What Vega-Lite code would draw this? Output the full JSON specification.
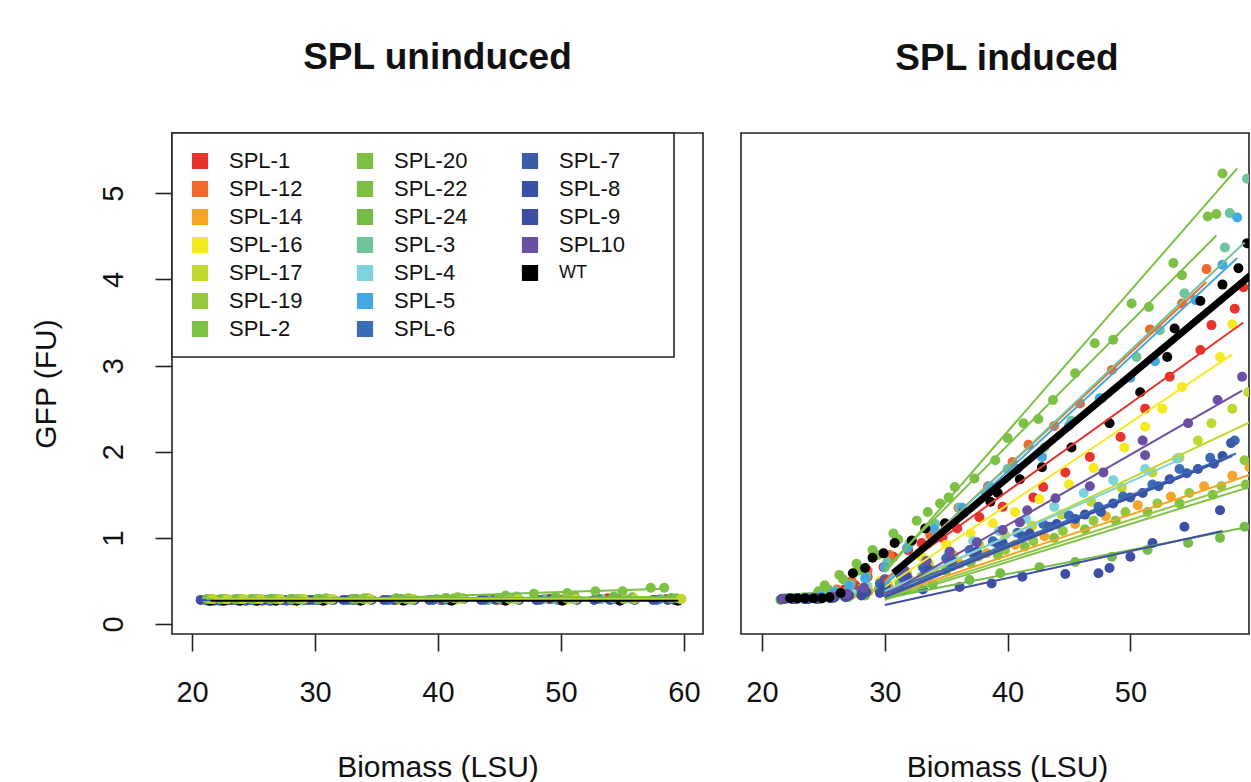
{
"$schema": "https://vega.github.io/schema/vega-lite/v6.json",
"padding": {"left": 30, "top": 38, "right": 0, "bottom": 0},
"background": "white",
"config": {
  "font": "Liberation Sans",
  "view": {"stroke": "#222222", "strokeWidth": 1.6},
  "axis": {"domain": false, "grid": false, "tickSize": 17, "tickWidth": 1.6, "tickColor": "#222222", "labelFontSize": 29, "labelColor": "#111111", "titleFontSize": 30, "titleFontWeight": "normal", "titleColor": "#111111", "labelFont": "Liberation Sans", "titleFont": "Liberation Sans"},
  "title": {"fontSize": 37, "fontWeight": "bold", "font": "Liberation Sans", "color": "#111111"},
  "concat": {"spacing": 36}
},
"datasets": {
"u": [
{"s":"SPL-1","x":21.3,"y":0.28},{"s":"SPL-1","x":22.4,"y":0.27},{"s":"SPL-1","x":23.6,"y":0.28},{"s":"SPL-1","x":24.9,"y":0.28},{"s":"SPL-1","x":26.3,"y":0.27},{"s":"SPL-1","x":28.0,"y":0.28},{"s":"SPL-1","x":30.1,"y":0.28},{"s":"SPL-1","x":33.0,"y":0.29},{"s":"SPL-1","x":36.4,"y":0.28},{"s":"SPL-1","x":40.2,"y":0.28},{"s":"SPL-1","x":44.5,"y":0.29},{"s":"SPL-1","x":49.0,"y":0.29},{"s":"SPL-1","x":53.8,"y":0.3},{"s":"SPL-1","x":58.6,"y":0.29},
{"s":"SPL-12","x":21.5,"y":0.27},{"s":"SPL-12","x":22.7,"y":0.28},{"s":"SPL-12","x":23.9,"y":0.27},{"s":"SPL-12","x":25.2,"y":0.28},{"s":"SPL-12","x":26.7,"y":0.28},{"s":"SPL-12","x":28.4,"y":0.28},{"s":"SPL-12","x":30.6,"y":0.27},{"s":"SPL-12","x":33.6,"y":0.28},{"s":"SPL-12","x":37.0,"y":0.29},{"s":"SPL-12","x":40.9,"y":0.28},{"s":"SPL-12","x":45.2,"y":0.28},{"s":"SPL-12","x":49.8,"y":0.29},{"s":"SPL-12","x":54.5,"y":0.29},{"s":"SPL-12","x":59.0,"y":0.29},
{"s":"SPL-14","x":21.4,"y":0.28},{"s":"SPL-14","x":22.5,"y":0.28},{"s":"SPL-14","x":23.7,"y":0.27},{"s":"SPL-14","x":25.0,"y":0.28},{"s":"SPL-14","x":26.5,"y":0.28},{"s":"SPL-14","x":28.2,"y":0.27},{"s":"SPL-14","x":30.4,"y":0.28},{"s":"SPL-14","x":33.3,"y":0.28},{"s":"SPL-14","x":36.7,"y":0.28},{"s":"SPL-14","x":40.5,"y":0.29},{"s":"SPL-14","x":44.9,"y":0.28},{"s":"SPL-14","x":49.4,"y":0.3},{"s":"SPL-14","x":54.1,"y":0.29},{"s":"SPL-14","x":58.8,"y":0.29},
{"s":"SPL-16","x":21.6,"y":0.28},{"s":"SPL-16","x":22.8,"y":0.27},{"s":"SPL-16","x":24.1,"y":0.28},{"s":"SPL-16","x":25.5,"y":0.28},{"s":"SPL-16","x":27.0,"y":0.28},{"s":"SPL-16","x":28.8,"y":0.28},{"s":"SPL-16","x":31.0,"y":0.28},{"s":"SPL-16","x":34.0,"y":0.28},{"s":"SPL-16","x":37.5,"y":0.28},{"s":"SPL-16","x":41.5,"y":0.28},{"s":"SPL-16","x":45.9,"y":0.29},{"s":"SPL-16","x":50.5,"y":0.28},{"s":"SPL-16","x":55.2,"y":0.29},{"s":"SPL-16","x":59.3,"y":0.28},
{"s":"SPL-3","x":21.2,"y":0.28},{"s":"SPL-3","x":22.3,"y":0.28},{"s":"SPL-3","x":23.5,"y":0.28},{"s":"SPL-3","x":24.8,"y":0.28},{"s":"SPL-3","x":26.2,"y":0.28},{"s":"SPL-3","x":27.9,"y":0.28},{"s":"SPL-3","x":30.0,"y":0.28},{"s":"SPL-3","x":32.8,"y":0.28},{"s":"SPL-3","x":36.1,"y":0.28},{"s":"SPL-3","x":39.9,"y":0.29},{"s":"SPL-3","x":44.1,"y":0.28},{"s":"SPL-3","x":48.6,"y":0.29},{"s":"SPL-3","x":53.3,"y":0.29},{"s":"SPL-3","x":58.1,"y":0.29},
{"s":"SPL-4","x":21.7,"y":0.28},{"s":"SPL-4","x":22.9,"y":0.28},{"s":"SPL-4","x":24.2,"y":0.27},{"s":"SPL-4","x":25.6,"y":0.28},{"s":"SPL-4","x":27.2,"y":0.28},{"s":"SPL-4","x":29.0,"y":0.27},{"s":"SPL-4","x":31.3,"y":0.28},{"s":"SPL-4","x":34.3,"y":0.29},{"s":"SPL-4","x":37.8,"y":0.28},{"s":"SPL-4","x":41.8,"y":0.29},{"s":"SPL-4","x":46.2,"y":0.29},{"s":"SPL-4","x":50.9,"y":0.29},{"s":"SPL-4","x":55.6,"y":0.29},{"s":"SPL-4","x":59.5,"y":0.29},
{"s":"SPL-5","x":21.4,"y":0.27},{"s":"SPL-5","x":22.6,"y":0.28},{"s":"SPL-5","x":23.8,"y":0.28},{"s":"SPL-5","x":25.1,"y":0.27},{"s":"SPL-5","x":26.6,"y":0.28},{"s":"SPL-5","x":28.3,"y":0.28},{"s":"SPL-5","x":30.5,"y":0.28},{"s":"SPL-5","x":33.5,"y":0.28},{"s":"SPL-5","x":36.9,"y":0.29},{"s":"SPL-5","x":40.8,"y":0.28},{"s":"SPL-5","x":45.1,"y":0.29},{"s":"SPL-5","x":49.7,"y":0.28},{"s":"SPL-5","x":54.4,"y":0.29},{"s":"SPL-5","x":58.9,"y":0.29},
{"s":"SPL-6","x":21.1,"y":0.28},{"s":"SPL-6","x":22.2,"y":0.27},{"s":"SPL-6","x":23.4,"y":0.28},{"s":"SPL-6","x":24.7,"y":0.28},{"s":"SPL-6","x":26.1,"y":0.28},{"s":"SPL-6","x":27.7,"y":0.27},{"s":"SPL-6","x":29.8,"y":0.28},{"s":"SPL-6","x":32.6,"y":0.28},{"s":"SPL-6","x":35.9,"y":0.28},{"s":"SPL-6","x":39.6,"y":0.28},{"s":"SPL-6","x":43.8,"y":0.28},{"s":"SPL-6","x":48.3,"y":0.28},{"s":"SPL-6","x":53.0,"y":0.29},{"s":"SPL-6","x":57.8,"y":0.28},
{"s":"SPL-7","x":21.8,"y":0.27},{"s":"SPL-7","x":23.0,"y":0.28},{"s":"SPL-7","x":24.3,"y":0.28},{"s":"SPL-7","x":25.7,"y":0.27},{"s":"SPL-7","x":27.3,"y":0.28},{"s":"SPL-7","x":29.2,"y":0.28},{"s":"SPL-7","x":31.5,"y":0.28},{"s":"SPL-7","x":34.6,"y":0.28},{"s":"SPL-7","x":38.1,"y":0.28},{"s":"SPL-7","x":42.1,"y":0.29},{"s":"SPL-7","x":46.6,"y":0.28},{"s":"SPL-7","x":51.3,"y":0.28},{"s":"SPL-7","x":56.0,"y":0.28},{"s":"SPL-7","x":59.6,"y":0.28},
{"s":"SPL-8","x":21.3,"y":0.27},{"s":"SPL-8","x":22.4,"y":0.28},{"s":"SPL-8","x":23.7,"y":0.28},{"s":"SPL-8","x":25.0,"y":0.28},{"s":"SPL-8","x":26.4,"y":0.27},{"s":"SPL-8","x":28.1,"y":0.28},{"s":"SPL-8","x":30.3,"y":0.28},{"s":"SPL-8","x":33.1,"y":0.28},{"s":"SPL-8","x":36.5,"y":0.28},{"s":"SPL-8","x":40.4,"y":0.28},{"s":"SPL-8","x":44.7,"y":0.28},{"s":"SPL-8","x":49.2,"y":0.29},{"s":"SPL-8","x":54.0,"y":0.28},{"s":"SPL-8","x":58.7,"y":0.28},
{"s":"SPL-9","x":20.7,"y":0.28},{"s":"SPL-9","x":21.9,"y":0.28},{"s":"SPL-9","x":23.1,"y":0.28},{"s":"SPL-9","x":24.4,"y":0.27},{"s":"SPL-9","x":25.8,"y":0.28},{"s":"SPL-9","x":27.5,"y":0.28},{"s":"SPL-9","x":29.5,"y":0.28},{"s":"SPL-9","x":32.3,"y":0.28},{"s":"SPL-9","x":35.6,"y":0.28},{"s":"SPL-9","x":39.3,"y":0.28},{"s":"SPL-9","x":43.5,"y":0.28},{"s":"SPL-9","x":48.0,"y":0.28},{"s":"SPL-9","x":52.7,"y":0.28},{"s":"SPL-9","x":57.5,"y":0.28},
{"s":"SPL10","x":21.6,"y":0.28},{"s":"SPL10","x":22.8,"y":0.28},{"s":"SPL10","x":24.0,"y":0.28},{"s":"SPL10","x":25.4,"y":0.28},{"s":"SPL10","x":26.9,"y":0.28},{"s":"SPL10","x":28.6,"y":0.28},{"s":"SPL10","x":30.8,"y":0.28},{"s":"SPL10","x":33.8,"y":0.28},{"s":"SPL10","x":37.3,"y":0.28},{"s":"SPL10","x":41.2,"y":0.28},{"s":"SPL10","x":45.6,"y":0.29},{"s":"SPL10","x":50.2,"y":0.28},{"s":"SPL10","x":54.9,"y":0.28},{"s":"SPL10","x":59.2,"y":0.28},
{"s":"WT","x":21.5,"y":0.27},{"s":"WT","x":22.6,"y":0.27},{"s":"WT","x":23.9,"y":0.27},{"s":"WT","x":25.3,"y":0.27},{"s":"WT","x":26.8,"y":0.27},{"s":"WT","x":28.5,"y":0.27},{"s":"WT","x":30.7,"y":0.27},{"s":"WT","x":33.7,"y":0.27},{"s":"WT","x":37.2,"y":0.27},{"s":"WT","x":41.1,"y":0.27},{"s":"WT","x":45.5,"y":0.27},{"s":"WT","x":50.1,"y":0.27},{"s":"WT","x":54.8,"y":0.27},{"s":"WT","x":59.5,"y":0.27},
{"s":"SPL-2","x":21.2,"y":0.29},{"s":"SPL-2","x":22.3,"y":0.29},{"s":"SPL-2","x":23.5,"y":0.29},{"s":"SPL-2","x":24.8,"y":0.29},{"s":"SPL-2","x":26.3,"y":0.29},{"s":"SPL-2","x":28.0,"y":0.29},{"s":"SPL-2","x":30.2,"y":0.29},{"s":"SPL-2","x":33.1,"y":0.29},{"s":"SPL-2","x":36.6,"y":0.3},{"s":"SPL-2","x":40.6,"y":0.3},{"s":"SPL-2","x":44.9,"y":0.3},{"s":"SPL-2","x":49.5,"y":0.3},{"s":"SPL-2","x":54.2,"y":0.3},{"s":"SPL-2","x":58.9,"y":0.3},
{"s":"SPL-20","x":21.4,"y":0.29},{"s":"SPL-20","x":22.6,"y":0.29},{"s":"SPL-20","x":23.8,"y":0.29},{"s":"SPL-20","x":25.2,"y":0.29},{"s":"SPL-20","x":26.8,"y":0.29},{"s":"SPL-20","x":28.6,"y":0.29},{"s":"SPL-20","x":30.9,"y":0.3},{"s":"SPL-20","x":34.0,"y":0.3},{"s":"SPL-20","x":37.6,"y":0.3},{"s":"SPL-20","x":41.6,"y":0.31},{"s":"SPL-20","x":45.5,"y":0.33},{"s":"SPL-20","x":47.8,"y":0.35},{"s":"SPL-20","x":50.5,"y":0.36},{"s":"SPL-20","x":52.8,"y":0.38},{"s":"SPL-20","x":55.0,"y":0.38},{"s":"SPL-20","x":57.3,"y":0.42},{"s":"SPL-20","x":58.4,"y":0.42},
{"s":"SPL-22","x":21.6,"y":0.29},{"s":"SPL-22","x":22.8,"y":0.29},{"s":"SPL-22","x":24.1,"y":0.29},{"s":"SPL-22","x":25.5,"y":0.29},{"s":"SPL-22","x":27.1,"y":0.29},{"s":"SPL-22","x":28.9,"y":0.29},{"s":"SPL-22","x":31.2,"y":0.29},{"s":"SPL-22","x":34.3,"y":0.3},{"s":"SPL-22","x":37.9,"y":0.29},{"s":"SPL-22","x":42.0,"y":0.3},{"s":"SPL-22","x":46.4,"y":0.32},{"s":"SPL-22","x":51.1,"y":0.33},{"s":"SPL-22","x":55.8,"y":0.31},{"s":"SPL-22","x":59.4,"y":0.3},
{"s":"SPL-24","x":21.3,"y":0.29},{"s":"SPL-24","x":22.5,"y":0.29},{"s":"SPL-24","x":23.7,"y":0.29},{"s":"SPL-24","x":25.0,"y":0.29},{"s":"SPL-24","x":26.5,"y":0.29},{"s":"SPL-24","x":28.2,"y":0.29},{"s":"SPL-24","x":30.4,"y":0.29},{"s":"SPL-24","x":33.4,"y":0.29},{"s":"SPL-24","x":36.8,"y":0.29},{"s":"SPL-24","x":40.7,"y":0.3},{"s":"SPL-24","x":45.0,"y":0.3},{"s":"SPL-24","x":49.6,"y":0.31},{"s":"SPL-24","x":54.3,"y":0.32},{"s":"SPL-24","x":59.0,"y":0.3},
{"s":"SPL-19","x":21.5,"y":0.29},{"s":"SPL-19","x":22.7,"y":0.29},{"s":"SPL-19","x":24.0,"y":0.29},{"s":"SPL-19","x":25.3,"y":0.29},{"s":"SPL-19","x":26.9,"y":0.29},{"s":"SPL-19","x":28.7,"y":0.29},{"s":"SPL-19","x":31.0,"y":0.29},{"s":"SPL-19","x":33.9,"y":0.29},{"s":"SPL-19","x":37.4,"y":0.29},{"s":"SPL-19","x":41.3,"y":0.3},{"s":"SPL-19","x":45.8,"y":0.29},{"s":"SPL-19","x":50.4,"y":0.3},{"s":"SPL-19","x":55.1,"y":0.29},{"s":"SPL-19","x":59.7,"y":0.29},
{"s":"SPL-17","x":21.7,"y":0.29},{"s":"SPL-17","x":22.9,"y":0.29},{"s":"SPL-17","x":24.2,"y":0.29},{"s":"SPL-17","x":25.6,"y":0.29},{"s":"SPL-17","x":27.2,"y":0.29},{"s":"SPL-17","x":29.1,"y":0.29},{"s":"SPL-17","x":31.4,"y":0.29},{"s":"SPL-17","x":34.5,"y":0.29},{"s":"SPL-17","x":38.0,"y":0.29},{"s":"SPL-17","x":42.0,"y":0.29},{"s":"SPL-17","x":46.5,"y":0.29},{"s":"SPL-17","x":51.2,"y":0.29},{"s":"SPL-17","x":56.0,"y":0.29},{"s":"SPL-17","x":59.8,"y":0.29}
],
"ul": [
{"s":"SPL-1","x":21.3,"y":0.28},{"s":"SPL-1","x":58.6,"y":0.29},
{"s":"SPL-12","x":21.5,"y":0.28},{"s":"SPL-12","x":59.0,"y":0.29},
{"s":"SPL-14","x":21.4,"y":0.28},{"s":"SPL-14","x":58.8,"y":0.29},
{"s":"SPL-16","x":21.6,"y":0.28},{"s":"SPL-16","x":59.3,"y":0.28},
{"s":"SPL-3","x":21.2,"y":0.28},{"s":"SPL-3","x":58.1,"y":0.29},
{"s":"SPL-4","x":21.7,"y":0.28},{"s":"SPL-4","x":59.5,"y":0.29},
{"s":"SPL-5","x":21.4,"y":0.28},{"s":"SPL-5","x":58.9,"y":0.29},
{"s":"SPL-6","x":21.1,"y":0.28},{"s":"SPL-6","x":57.8,"y":0.28},
{"s":"SPL-7","x":21.8,"y":0.28},{"s":"SPL-7","x":59.6,"y":0.28},
{"s":"SPL-8","x":21.3,"y":0.28},{"s":"SPL-8","x":58.7,"y":0.28},
{"s":"SPL-9","x":20.7,"y":0.28},{"s":"SPL-9","x":57.5,"y":0.28},
{"s":"SPL10","x":21.6,"y":0.28},{"s":"SPL10","x":59.2,"y":0.28},
{"s":"SPL-2","x":21.2,"y":0.29},{"s":"SPL-2","x":58.9,"y":0.3},
{"s":"SPL-20","x":35.0,"y":0.3},{"s":"SPL-20","x":58.4,"y":0.41},
{"s":"SPL-22","x":21.6,"y":0.29},{"s":"SPL-22","x":59.4,"y":0.31},
{"s":"SPL-24","x":21.3,"y":0.29},{"s":"SPL-24","x":59.0,"y":0.31},
{"s":"SPL-19","x":21.5,"y":0.29},{"s":"SPL-19","x":59.7,"y":0.29},
{"s":"SPL-17","x":21.7,"y":0.29},{"s":"SPL-17","x":59.8,"y":0.29},
{"s":"WT","x":21.5,"y":0.27},{"s":"WT","x":59.5,"y":0.27}
],
"i": [
{"s":"SPL-1","x":21.9,"y":0.29},{"s":"SPL-1","x":22.8,"y":0.3},{"s":"SPL-1","x":23.8,"y":0.3},{"s":"SPL-1","x":24.8,"y":0.31},{"s":"SPL-1","x":25.8,"y":0.34},{"s":"SPL-1","x":26.7,"y":0.4},{"s":"SPL-1","x":27.6,"y":0.45},{"s":"SPL-1","x":28.6,"y":0.55},{"s":"SPL-1","x":29.9,"y":0.66},{"s":"SPL-1","x":30.7,"y":0.78},{"s":"SPL-1","x":31.9,"y":0.86},{"s":"SPL-1","x":33.0,"y":0.94},{"s":"SPL-1","x":34.7,"y":1.0},{"s":"SPL-1","x":35.9,"y":1.11},{"s":"SPL-1","x":37.7,"y":1.24},{"s":"SPL-1","x":39.6,"y":1.36},{"s":"SPL-1","x":42.1,"y":1.47},{"s":"SPL-1","x":42.9,"y":1.59},{"s":"SPL-1","x":44.7,"y":1.76},{"s":"SPL-1","x":46.7,"y":1.94},{"s":"SPL-1","x":49.2,"y":2.17},{"s":"SPL-1","x":51.2,"y":2.5},{"s":"SPL-1","x":53.2,"y":2.87},{"s":"SPL-1","x":55.7,"y":3.18},{"s":"SPL-1","x":56.6,"y":3.47},{"s":"SPL-1","x":58.5,"y":3.66},{"s":"SPL-1","x":59.2,"y":3.91},
{"s":"SPL-12","x":22.0,"y":0.3},{"s":"SPL-12","x":23.0,"y":0.3},{"s":"SPL-12","x":24.0,"y":0.31},{"s":"SPL-12","x":25.0,"y":0.34},{"s":"SPL-12","x":26.1,"y":0.4},{"s":"SPL-12","x":27.3,"y":0.5},{"s":"SPL-12","x":28.6,"y":0.62},{"s":"SPL-12","x":30.4,"y":0.8},{"s":"SPL-12","x":32.1,"y":0.95},{"s":"SPL-12","x":33.7,"y":1.03},{"s":"SPL-12","x":36.0,"y":1.35},{"s":"SPL-12","x":38.4,"y":1.6},{"s":"SPL-12","x":40.4,"y":1.88},{"s":"SPL-12","x":41.7,"y":2.08},{"s":"SPL-12","x":43.8,"y":2.3},{"s":"SPL-12","x":45.9,"y":2.56},{"s":"SPL-12","x":48.5,"y":2.95},{"s":"SPL-12","x":51.6,"y":3.42},{"s":"SPL-12","x":54.2,"y":3.72},{"s":"SPL-12","x":56.2,"y":4.12},
{"s":"SPL-14","x":21.9,"y":0.29},{"s":"SPL-14","x":22.9,"y":0.29},{"s":"SPL-14","x":23.9,"y":0.3},{"s":"SPL-14","x":24.9,"y":0.3},{"s":"SPL-14","x":26.0,"y":0.32},{"s":"SPL-14","x":27.3,"y":0.34},{"s":"SPL-14","x":28.7,"y":0.38},{"s":"SPL-14","x":30.3,"y":0.44},{"s":"SPL-14","x":32.0,"y":0.52},{"s":"SPL-14","x":34.0,"y":0.62},{"s":"SPL-14","x":36.1,"y":0.7},{"s":"SPL-14","x":38.3,"y":0.82},{"s":"SPL-14","x":40.6,"y":0.92},{"s":"SPL-14","x":43.0,"y":1.02},{"s":"SPL-14","x":45.5,"y":1.16},{"s":"SPL-14","x":48.0,"y":1.25},{"s":"SPL-14","x":50.6,"y":1.38},{"s":"SPL-14","x":53.3,"y":1.48},{"s":"SPL-14","x":56.0,"y":1.6},{"s":"SPL-14","x":58.3,"y":1.72},{"s":"SPL-14","x":59.7,"y":1.82},
{"s":"SPL-16","x":21.8,"y":0.29},{"s":"SPL-16","x":22.7,"y":0.29},{"s":"SPL-16","x":23.7,"y":0.3},{"s":"SPL-16","x":24.7,"y":0.31},{"s":"SPL-16","x":25.8,"y":0.33},{"s":"SPL-16","x":26.9,"y":0.36},{"s":"SPL-16","x":28.2,"y":0.42},{"s":"SPL-16","x":29.6,"y":0.5},{"s":"SPL-16","x":31.2,"y":0.62},{"s":"SPL-16","x":33.0,"y":0.78},{"s":"SPL-16","x":35.0,"y":0.92},{"s":"SPL-16","x":37.0,"y":1.05},{"s":"SPL-16","x":38.8,"y":1.17},{"s":"SPL-16","x":40.6,"y":1.3},{"s":"SPL-16","x":42.6,"y":1.45},{"s":"SPL-16","x":45.0,"y":1.62},{"s":"SPL-16","x":47.0,"y":1.81},{"s":"SPL-16","x":49.5,"y":2.05},{"s":"SPL-16","x":51.2,"y":2.29},{"s":"SPL-16","x":52.6,"y":2.5},{"s":"SPL-16","x":54.2,"y":2.75},{"s":"SPL-16","x":57.3,"y":3.1},{"s":"SPL-16","x":58.3,"y":3.48},
{"s":"SPL-17","x":21.9,"y":0.29},{"s":"SPL-17","x":22.9,"y":0.29},{"s":"SPL-17","x":23.9,"y":0.3},{"s":"SPL-17","x":24.9,"y":0.31},{"s":"SPL-17","x":26.0,"y":0.33},{"s":"SPL-17","x":27.2,"y":0.37},{"s":"SPL-17","x":28.6,"y":0.44},{"s":"SPL-17","x":30.1,"y":0.52},{"s":"SPL-17","x":31.8,"y":0.6},{"s":"SPL-17","x":33.6,"y":0.7},{"s":"SPL-17","x":35.6,"y":0.8},{"s":"SPL-17","x":37.7,"y":0.92},{"s":"SPL-17","x":39.8,"y":1.03},{"s":"SPL-17","x":42.0,"y":1.14},{"s":"SPL-17","x":44.4,"y":1.27},{"s":"SPL-17","x":46.8,"y":1.42},{"s":"SPL-17","x":49.3,"y":1.58},{"s":"SPL-17","x":51.8,"y":1.76},{"s":"SPL-17","x":54.0,"y":1.93},{"s":"SPL-17","x":55.5,"y":2.13},{"s":"SPL-17","x":56.6,"y":2.33},{"s":"SPL-17","x":58.3,"y":2.5},{"s":"SPL-17","x":59.6,"y":2.69},
{"s":"SPL-19","x":21.6,"y":0.29},{"s":"SPL-19","x":22.6,"y":0.29},{"s":"SPL-19","x":23.6,"y":0.29},{"s":"SPL-19","x":24.6,"y":0.3},{"s":"SPL-19","x":25.7,"y":0.31},{"s":"SPL-19","x":26.9,"y":0.33},{"s":"SPL-19","x":28.3,"y":0.37},{"s":"SPL-19","x":29.9,"y":0.43},{"s":"SPL-19","x":31.6,"y":0.5},{"s":"SPL-19","x":33.5,"y":0.58},{"s":"SPL-19","x":35.5,"y":0.67},{"s":"SPL-19","x":37.6,"y":0.78},{"s":"SPL-19","x":39.8,"y":0.86},{"s":"SPL-19","x":42.1,"y":0.96},{"s":"SPL-19","x":44.5,"y":1.08},{"s":"SPL-19","x":47.0,"y":1.2},{"s":"SPL-19","x":49.6,"y":1.3},{"s":"SPL-19","x":52.2,"y":1.4},{"s":"SPL-19","x":54.8,"y":1.52},{"s":"SPL-19","x":57.4,"y":1.6},{"s":"SPL-19","x":59.3,"y":1.9},
{"s":"SPL-2","x":21.5,"y":0.28},{"s":"SPL-2","x":22.4,"y":0.29},{"s":"SPL-2","x":23.4,"y":0.29},{"s":"SPL-2","x":24.4,"y":0.29},{"s":"SPL-2","x":25.5,"y":0.3},{"s":"SPL-2","x":26.7,"y":0.32},{"s":"SPL-2","x":28.0,"y":0.35},{"s":"SPL-2","x":29.5,"y":0.4},{"s":"SPL-2","x":31.2,"y":0.47},{"s":"SPL-2","x":33.0,"y":0.55},{"s":"SPL-2","x":35.0,"y":0.62},{"s":"SPL-2","x":37.0,"y":0.71},{"s":"SPL-2","x":39.2,"y":0.8},{"s":"SPL-2","x":41.4,"y":0.9},{"s":"SPL-2","x":43.8,"y":1.0},{"s":"SPL-2","x":46.3,"y":1.1},{"s":"SPL-2","x":48.8,"y":1.2},{"s":"SPL-2","x":51.4,"y":1.3},{"s":"SPL-2","x":54.0,"y":1.4},{"s":"SPL-2","x":56.7,"y":1.5},{"s":"SPL-2","x":59.4,"y":1.62},
{"s":"SPL-20","x":21.9,"y":0.29},{"s":"SPL-20","x":22.8,"y":0.3},{"s":"SPL-20","x":23.7,"y":0.31},{"s":"SPL-20","x":24.6,"y":0.38},{"s":"SPL-20","x":25.1,"y":0.45},{"s":"SPL-20","x":26.3,"y":0.57},{"s":"SPL-20","x":27.7,"y":0.7},{"s":"SPL-20","x":29.0,"y":0.86},{"s":"SPL-20","x":30.7,"y":1.05},{"s":"SPL-20","x":32.6,"y":1.2},{"s":"SPL-20","x":34.5,"y":1.4},{"s":"SPL-20","x":35.7,"y":1.59},{"s":"SPL-20","x":39.0,"y":1.9},{"s":"SPL-20","x":41.3,"y":2.33},{"s":"SPL-20","x":43.7,"y":2.6},{"s":"SPL-20","x":47.1,"y":3.26},{"s":"SPL-20","x":50.1,"y":3.72},{"s":"SPL-20","x":53.5,"y":4.19},{"s":"SPL-20","x":56.3,"y":4.73},{"s":"SPL-20","x":57.5,"y":5.23},
{"s":"SPL-22","x":21.7,"y":0.29},{"s":"SPL-22","x":22.6,"y":0.3},{"s":"SPL-22","x":23.4,"y":0.31},{"s":"SPL-22","x":24.4,"y":0.33},{"s":"SPL-22","x":25.4,"y":0.4},{"s":"SPL-22","x":26.6,"y":0.52},{"s":"SPL-22","x":27.9,"y":0.62},{"s":"SPL-22","x":29.4,"y":0.8},{"s":"SPL-22","x":31.1,"y":0.98},{"s":"SPL-22","x":33.5,"y":1.3},{"s":"SPL-22","x":35.2,"y":1.47},{"s":"SPL-22","x":37.3,"y":1.69},{"s":"SPL-22","x":40.0,"y":2.16},{"s":"SPL-22","x":42.5,"y":2.38},{"s":"SPL-22","x":45.5,"y":2.91},{"s":"SPL-22","x":48.6,"y":3.3},{"s":"SPL-22","x":51.5,"y":3.68},{"s":"SPL-22","x":54.2,"y":4.05},{"s":"SPL-22","x":57.0,"y":4.76},
{"s":"SPL-24","x":21.7,"y":0.29},{"s":"SPL-24","x":22.7,"y":0.29},{"s":"SPL-24","x":23.7,"y":0.29},{"s":"SPL-24","x":24.7,"y":0.29},{"s":"SPL-24","x":25.8,"y":0.3},{"s":"SPL-24","x":27.0,"y":0.31},{"s":"SPL-24","x":28.4,"y":0.33},{"s":"SPL-24","x":30.0,"y":0.37},{"s":"SPL-24","x":31.8,"y":0.41},{"s":"SPL-24","x":33.9,"y":0.46},{"s":"SPL-24","x":36.9,"y":0.51},{"s":"SPL-24","x":39.4,"y":0.59},{"s":"SPL-24","x":42.6,"y":0.66},{"s":"SPL-24","x":45.5,"y":0.72},{"s":"SPL-24","x":48.5,"y":0.78},{"s":"SPL-24","x":51.4,"y":0.86},{"s":"SPL-24","x":54.7,"y":0.94},{"s":"SPL-24","x":57.3,"y":1.0},{"s":"SPL-24","x":59.3,"y":1.13},
{"s":"SPL-3","x":21.9,"y":0.3},{"s":"SPL-3","x":22.9,"y":0.3},{"s":"SPL-3","x":23.9,"y":0.31},{"s":"SPL-3","x":24.9,"y":0.33},{"s":"SPL-3","x":26.0,"y":0.38},{"s":"SPL-3","x":27.2,"y":0.46},{"s":"SPL-3","x":28.5,"y":0.55},{"s":"SPL-3","x":30.2,"y":0.72},{"s":"SPL-3","x":32.0,"y":0.93},{"s":"SPL-3","x":34.1,"y":1.16},{"s":"SPL-3","x":36.1,"y":1.35},{"s":"SPL-3","x":38.2,"y":1.52},{"s":"SPL-3","x":40.0,"y":1.8},{"s":"SPL-3","x":43.0,"y":2.05},{"s":"SPL-3","x":45.2,"y":2.36},{"s":"SPL-3","x":47.7,"y":2.62},{"s":"SPL-3","x":50.5,"y":3.1},{"s":"SPL-3","x":52.4,"y":3.41},{"s":"SPL-3","x":54.4,"y":3.84},{"s":"SPL-3","x":57.7,"y":4.37},{"s":"SPL-3","x":58.1,"y":4.77},{"s":"SPL-3","x":59.5,"y":5.17},
{"s":"SPL-4","x":21.8,"y":0.3},{"s":"SPL-4","x":22.8,"y":0.3},{"s":"SPL-4","x":23.8,"y":0.3},{"s":"SPL-4","x":24.9,"y":0.31},{"s":"SPL-4","x":26.0,"y":0.33},{"s":"SPL-4","x":27.2,"y":0.37},{"s":"SPL-4","x":28.5,"y":0.44},{"s":"SPL-4","x":30.0,"y":0.52},{"s":"SPL-4","x":31.6,"y":0.62},{"s":"SPL-4","x":33.3,"y":0.72},{"s":"SPL-4","x":35.2,"y":0.83},{"s":"SPL-4","x":37.2,"y":0.96},{"s":"SPL-4","x":39.3,"y":1.08},{"s":"SPL-4","x":41.5,"y":1.22},{"s":"SPL-4","x":43.8,"y":1.36},{"s":"SPL-4","x":46.2,"y":1.52},{"s":"SPL-4","x":48.6,"y":1.67},{"s":"SPL-4","x":51.2,"y":1.8},{"s":"SPL-4","x":53.8,"y":1.92},
{"s":"SPL-5","x":21.8,"y":0.29},{"s":"SPL-5","x":22.8,"y":0.3},{"s":"SPL-5","x":23.8,"y":0.3},{"s":"SPL-5","x":24.8,"y":0.32},{"s":"SPL-5","x":25.9,"y":0.37},{"s":"SPL-5","x":27.1,"y":0.44},{"s":"SPL-5","x":28.4,"y":0.53},{"s":"SPL-5","x":30.0,"y":0.66},{"s":"SPL-5","x":31.8,"y":0.88},{"s":"SPL-5","x":34.0,"y":1.1},{"s":"SPL-5","x":36.3,"y":1.35},{"s":"SPL-5","x":38.5,"y":1.6},{"s":"SPL-5","x":40.8,"y":1.8},{"s":"SPL-5","x":42.8,"y":1.94},{"s":"SPL-5","x":45.0,"y":2.3},{"s":"SPL-5","x":47.5,"y":2.62},{"s":"SPL-5","x":50.0,"y":2.86},{"s":"SPL-5","x":52.0,"y":3.05},{"s":"SPL-5","x":55.3,"y":3.76},{"s":"SPL-5","x":57.5,"y":4.17},{"s":"SPL-5","x":58.7,"y":4.72},
{"s":"SPL-6","x":21.6,"y":0.29},{"s":"SPL-6","x":22.5,"y":0.29},{"s":"SPL-6","x":23.5,"y":0.29},{"s":"SPL-6","x":24.5,"y":0.3},{"s":"SPL-6","x":25.6,"y":0.31},{"s":"SPL-6","x":26.8,"y":0.34},{"s":"SPL-6","x":28.1,"y":0.4},{"s":"SPL-6","x":29.6,"y":0.47},{"s":"SPL-6","x":31.3,"y":0.56},{"s":"SPL-6","x":33.1,"y":0.66},{"s":"SPL-6","x":35.0,"y":0.76},{"s":"SPL-6","x":36.9,"y":0.86},{"s":"SPL-6","x":38.8,"y":0.96},{"s":"SPL-6","x":40.8,"y":1.06},{"s":"SPL-6","x":42.9,"y":1.16},{"s":"SPL-6","x":45.0,"y":1.26},{"s":"SPL-6","x":47.4,"y":1.36},{"s":"SPL-6","x":49.4,"y":1.48},{"s":"SPL-6","x":51.8,"y":1.62},{"s":"SPL-6","x":54.0,"y":1.8},{"s":"SPL-6","x":56.5,"y":1.93},{"s":"SPL-6","x":58.5,"y":2.13},
{"s":"SPL-7","x":21.7,"y":0.29},{"s":"SPL-7","x":22.6,"y":0.29},{"s":"SPL-7","x":23.6,"y":0.29},{"s":"SPL-7","x":24.6,"y":0.3},{"s":"SPL-7","x":25.7,"y":0.31},{"s":"SPL-7","x":26.9,"y":0.33},{"s":"SPL-7","x":28.2,"y":0.37},{"s":"SPL-7","x":29.8,"y":0.44},{"s":"SPL-7","x":31.5,"y":0.53},{"s":"SPL-7","x":33.3,"y":0.62},{"s":"SPL-7","x":35.2,"y":0.72},{"s":"SPL-7","x":37.2,"y":0.82},{"s":"SPL-7","x":39.2,"y":0.93},{"s":"SPL-7","x":41.2,"y":1.02},{"s":"SPL-7","x":43.4,"y":1.13},{"s":"SPL-7","x":45.5,"y":1.22},{"s":"SPL-7","x":47.6,"y":1.3},{"s":"SPL-7","x":50.0,"y":1.47},{"s":"SPL-7","x":52.3,"y":1.6},{"s":"SPL-7","x":54.6,"y":1.75},{"s":"SPL-7","x":56.8,"y":1.86},{"s":"SPL-7","x":58.2,"y":2.1},
{"s":"SPL-8","x":21.8,"y":0.29},{"s":"SPL-8","x":22.8,"y":0.29},{"s":"SPL-8","x":23.8,"y":0.29},{"s":"SPL-8","x":24.8,"y":0.3},{"s":"SPL-8","x":25.9,"y":0.31},{"s":"SPL-8","x":27.1,"y":0.33},{"s":"SPL-8","x":28.5,"y":0.37},{"s":"SPL-8","x":30.1,"y":0.45},{"s":"SPL-8","x":31.8,"y":0.55},{"s":"SPL-8","x":33.6,"y":0.63},{"s":"SPL-8","x":35.5,"y":0.73},{"s":"SPL-8","x":37.5,"y":0.84},{"s":"SPL-8","x":39.6,"y":0.94},{"s":"SPL-8","x":41.8,"y":1.05},{"s":"SPL-8","x":44.0,"y":1.16},{"s":"SPL-8","x":46.3,"y":1.27},{"s":"SPL-8","x":48.6,"y":1.4},{"s":"SPL-8","x":51.0,"y":1.52},{"s":"SPL-8","x":53.2,"y":1.68},{"s":"SPL-8","x":55.5,"y":1.8},{"s":"SPL-8","x":57.5,"y":1.95},
{"s":"SPL-9","x":21.6,"y":0.29},{"s":"SPL-9","x":22.5,"y":0.29},{"s":"SPL-9","x":23.5,"y":0.29},{"s":"SPL-9","x":24.5,"y":0.29},{"s":"SPL-9","x":25.6,"y":0.3},{"s":"SPL-9","x":26.8,"y":0.31},{"s":"SPL-9","x":28.1,"y":0.33},{"s":"SPL-9","x":29.6,"y":0.36},{"s":"SPL-9","x":31.3,"y":0.38},{"s":"SPL-9","x":33.1,"y":0.4},{"s":"SPL-9","x":36.1,"y":0.43},{"s":"SPL-9","x":38.7,"y":0.47},{"s":"SPL-9","x":41.2,"y":0.55},{"s":"SPL-9","x":44.7,"y":0.58},{"s":"SPL-9","x":47.4,"y":0.59},{"s":"SPL-9","x":48.3,"y":0.65},{"s":"SPL-9","x":50.0,"y":0.78},{"s":"SPL-9","x":51.8,"y":0.94},{"s":"SPL-9","x":54.4,"y":1.13},{"s":"SPL-9","x":57.3,"y":1.32},
{"s":"SPL10","x":21.7,"y":0.29},{"s":"SPL10","x":22.6,"y":0.29},{"s":"SPL10","x":23.6,"y":0.3},{"s":"SPL10","x":24.6,"y":0.3},{"s":"SPL10","x":25.7,"y":0.32},{"s":"SPL10","x":26.9,"y":0.35},{"s":"SPL10","x":28.3,"y":0.42},{"s":"SPL10","x":30.0,"y":0.52},{"s":"SPL10","x":31.6,"y":0.62},{"s":"SPL10","x":33.4,"y":0.73},{"s":"SPL10","x":35.3,"y":0.84},{"s":"SPL10","x":37.5,"y":0.95},{"s":"SPL10","x":39.6,"y":1.09},{"s":"SPL10","x":41.0,"y":1.18},{"s":"SPL10","x":41.6,"y":1.32},{"s":"SPL10","x":43.9,"y":1.46},{"s":"SPL10","x":46.7,"y":1.6},{"s":"SPL10","x":47.8,"y":1.76},{"s":"SPL10","x":51.2,"y":1.96},{"s":"SPL10","x":51.0,"y":2.13},{"s":"SPL10","x":54.7,"y":2.33},{"s":"SPL10","x":57.1,"y":2.6},{"s":"SPL10","x":59.1,"y":2.87},
{"s":"WT","x":22.3,"y":0.3},{"s":"WT","x":22.9,"y":0.3},{"s":"WT","x":23.5,"y":0.3},{"s":"WT","x":24.2,"y":0.3},{"s":"WT","x":24.9,"y":0.3},{"s":"WT","x":25.5,"y":0.31},{"s":"WT","x":26.4,"y":0.36},{"s":"WT","x":27.4,"y":0.59},{"s":"WT","x":28.4,"y":0.65},{"s":"WT","x":29.0,"y":0.77},{"s":"WT","x":29.9,"y":0.82},{"s":"WT","x":30.8,"y":0.94},{"s":"WT","x":32.2,"y":0.97},{"s":"WT","x":33.3,"y":1.11},{"s":"WT","x":34.9,"y":1.17},{"s":"WT","x":36.4,"y":1.29},{"s":"WT","x":38.6,"y":1.42},{"s":"WT","x":39.2,"y":1.52},{"s":"WT","x":41.0,"y":1.68},{"s":"WT","x":42.8,"y":1.82},{"s":"WT","x":45.2,"y":2.05},{"s":"WT","x":48.3,"y":2.33},{"s":"WT","x":50.8,"y":2.69},{"s":"WT","x":53.0,"y":3.1},{"s":"WT","x":53.6,"y":3.43},{"s":"WT","x":55.7,"y":3.75},{"s":"WT","x":57.5,"y":3.94},{"s":"WT","x":58.8,"y":4.13},{"s":"WT","x":59.5,"y":4.42}
],
"il": [
{"s":"SPL-1","x":30.0,"y":0.52},{"s":"SPL-1","x":59.2,"y":3.5},
{"s":"SPL-12","x":30.0,"y":0.5},{"s":"SPL-12","x":56.2,"y":3.97},
{"s":"SPL-14","x":30.0,"y":0.32},{"s":"SPL-14","x":59.7,"y":1.73},
{"s":"SPL-16","x":30.0,"y":0.43},{"s":"SPL-16","x":58.3,"y":3.13},
{"s":"SPL-17","x":30.0,"y":0.35},{"s":"SPL-17","x":59.7,"y":2.34},
{"s":"SPL-19","x":30.0,"y":0.3},{"s":"SPL-19","x":59.7,"y":1.65},
{"s":"SPL-2","x":30.0,"y":0.28},{"s":"SPL-2","x":59.5,"y":1.58},
{"s":"SPL-20","x":30.0,"y":0.6},{"s":"SPL-20","x":58.7,"y":5.29},
{"s":"SPL-22","x":30.0,"y":0.64},{"s":"SPL-22","x":57.0,"y":4.51},
{"s":"SPL-24","x":30.0,"y":0.3},{"s":"SPL-24","x":59.7,"y":1.13},
{"s":"SPL-3","x":30.0,"y":0.48},{"s":"SPL-3","x":59.3,"y":4.43},
{"s":"SPL-4","x":30.0,"y":0.38},{"s":"SPL-4","x":54.2,"y":1.92},
{"s":"SPL-5","x":30.0,"y":0.45},{"s":"SPL-5","x":58.7,"y":4.25},
{"s":"SPL-6","x":30.0,"y":0.36},{"s":"SPL-6","x":58.6,"y":1.98},
{"s":"SPL-7","x":30.0,"y":0.33},{"s":"SPL-7","x":58.3,"y":1.95},
{"s":"SPL-8","x":30.0,"y":0.31},{"s":"SPL-8","x":57.5,"y":1.9},
{"s":"SPL-9","x":30.0,"y":0.22},{"s":"SPL-9","x":57.5,"y":1.08},
{"s":"SPL10","x":30.0,"y":0.33},{"s":"SPL10","x":59.1,"y":2.71},
{"s":"WT","x":30.7,"y":0.59},{"s":"WT","x":59.8,"y":4.05}
]
},
"resolve": {"scale": {"color": "independent"}, "legend": {"color": "independent"}},
"hconcat": [
{
  "width": 531, "height": 501,
  "title": {"text": "SPL uninduced", "offset": 55},
  "layer": [
    {"data": {"name": "u"}, "mark": {"type": "circle", "size": 100, "opacity": 1},
     "encoding": {
       "x": {"field": "x", "type": "quantitative", "scale": {"domain": [18.37, 61.55], "nice": false, "zero": false}, "axis": {"values": [20, 30, 40, 50, 60], "format": "d", "title": "Biomass (LSU)", "labelPadding": 27, "titlePadding": 45}},
       "y": {"field": "y", "type": "quantitative", "scale": {"domain": [-0.116, 5.7], "nice": false, "zero": false}, "axis": {"values": [0, 1, 2, 3, 4, 5], "format": "d", "title": "GFP (FU)", "labelAngle": -90, "labelPadding": 27, "titlePadding": 38}},
       "color": {"field": "s", "type": "nominal",
         "scale": {"domain": ["SPL-1","SPL-12","SPL-14","SPL-16","SPL-17","SPL-19","SPL-2","SPL-20","SPL-22","SPL-24","SPL-3","SPL-4","SPL-5","SPL-6","SPL-7","SPL-8","SPL-9","SPL10","WT","b1","b2"],
                   "range": ["#E8322B","#F06A2C","#F7A526","#F4EA1D","#C2D72E","#93C83E","#7EC144","#7CC143","#7BBF45","#74BC46","#6EC49B","#7ED2DE","#45A9E1","#3B6CB7","#3A5BAA","#3A52A6","#3F4EA5","#6A4FA3","#000000","#ffffff","#ffffff"]},
         "legend": {"orient": "none", "legendX": 0, "legendY": 0, "title": null, "columns": 3,
           "symbolType": "square", "symbolSize": 225, "symbolOpacity": 1,
           "labelFontSize": 22, "labelFont": "Liberation Sans", "labelColor": "#111111", "labelOffset": 18,
           "rowPadding": 6, "columnPadding": 51, "padding": 17,
           "strokeColor": "#222222", "fillColor": "white",
           "labelExpr": "datum.value == 'b1' || datum.value == 'b2' ? '________' : datum.label",
           "encode": {"legend": {"update": {"strokeWidth": {"value": 1.6}}},
                      "symbols": {"update": {"opacity": {"signal": "datum.value == 'b1' || datum.value == 'b2' ? 0 : 1"}, "stroke": {"value": "#333333"}, "strokeWidth": {"value": 1.2}}},
                      "labels": {"update": {"fontSize": {"signal": "datum.value == 'WT' ? 18 : 22"}, "opacity": {"signal": "datum.value == 'b1' || datum.value == 'b2' ? 0 : 1"}}}}}}
     }},
    {"data": {"name": "ul"}, "mark": {"type": "line", "strokeWidth": 2},
     "encoding": {"x": {"field": "x", "type": "quantitative"}, "y": {"field": "y", "type": "quantitative"},
       "color": {"field": "s", "type": "nominal", "legend": null}}}
  ]
},
{
  "width": 508, "height": 501,
  "title": {"text": "SPL induced", "offset": 55, "dx": 12},
  "layer": [
    {"data": {"name": "i"}, "mark": {"type": "circle", "size": 100, "opacity": 1, "clip": true},
     "encoding": {
       "x": {"field": "x", "type": "quantitative", "scale": {"domain": [18.29, 59.66], "nice": false, "zero": false}, "axis": {"values": [20, 30, 40, 50], "format": "d", "title": "Biomass (LSU)", "labelPadding": 27, "titlePadding": 45, "titleX": 266}},
       "y": {"field": "y", "type": "quantitative", "scale": {"domain": [-0.116, 5.7], "nice": false, "zero": false}, "axis": null},
       "color": {"field": "s", "type": "nominal",
         "scale": {"domain": ["SPL-1","SPL-12","SPL-14","SPL-16","SPL-17","SPL-19","SPL-2","SPL-20","SPL-22","SPL-24","SPL-3","SPL-4","SPL-5","SPL-6","SPL-7","SPL-8","SPL-9","SPL10","WT","b1","b2"],
                   "range": ["#E8322B","#F06A2C","#F7A526","#F4EA1D","#C2D72E","#93C83E","#7EC144","#7CC143","#7BBF45","#74BC46","#6EC49B","#7ED2DE","#45A9E1","#3B6CB7","#3A5BAA","#3A52A6","#3F4EA5","#6A4FA3","#000000","#ffffff","#ffffff"]},
         "legend": null}
     }},
    {"data": {"name": "il"}, "transform": [{"filter": "datum.s != 'WT'"}], "mark": {"type": "line", "strokeWidth": 2, "clip": true},
     "encoding": {"x": {"field": "x", "type": "quantitative"}, "y": {"field": "y", "type": "quantitative"},
       "color": {"field": "s", "type": "nominal", "legend": null}}},
    {"data": {"name": "il"}, "transform": [{"filter": "datum.s == 'WT'"}], "mark": {"type": "line", "strokeWidth": 7, "clip": true},
     "encoding": {"x": {"field": "x", "type": "quantitative"}, "y": {"field": "y", "type": "quantitative"},
       "color": {"field": "s", "type": "nominal", "legend": null}}}
  ]
}
]
}
